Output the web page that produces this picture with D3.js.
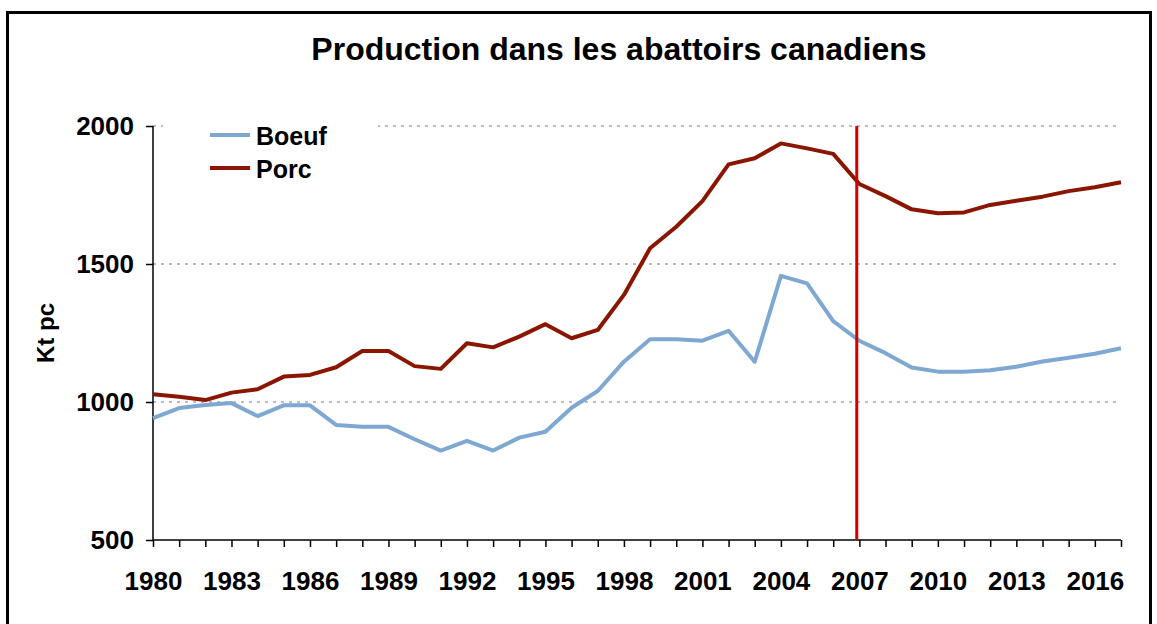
<!DOCTYPE html>
<html>
<head>
<meta charset="utf-8">
<script src="https://cdn.jsdelivr.net/npm/d3@7"></script>
<style>
  body { margin: 0; background: #fff; }
  svg { display: block; font-family: Arial, "Liberation Sans", sans-serif; }
</style>
</head>
<body>
<div id="chart"></div>
<script>
// data
const years = d3.range(1980, 2018);
const boeuf = [942, 978, 989, 996, 949, 988, 988, 917, 910, 910,
  865, 824, 859, 824, 871, 892, 979, 1040, 1146, 1227,
  1227, 1222, 1258, 1146, 1457, 1430, 1293, 1222, 1177, 1125,
  1110, 1110, 1115, 1128, 1147, 1160, 1175, 1195];
const porc = [1028, 1019, 1007, 1034, 1046, 1092, 1098, 1126, 1185, 1185,
  1130, 1120, 1213, 1198, 1237, 1282, 1231, 1261, 1388, 1557,
  1635, 1728, 1861, 1883, 1937, 1919, 1899, 1790, 1746, 1698,
  1684, 1687, 1714, 1729, 1744, 1764, 1778, 1796];
const yTicks = [500, 1000, 1500, 2000];
const xLabels = d3.range(1980, 2018, 3);
const markerYear = 2006.9;
const series = [
  { name: "Boeuf", values: boeuf, color: "#7ea7d1" },
  { name: "Porc", values: porc, color: "#8a1500" }
];

// setting variables
const W = 1157, H = 624,
  m = { top: 126, right: 36, bottom: 84, left: 153 },
  w = W - m.left - m.right,
  h = H - m.top - m.bottom;

const svg = d3.select("#chart")
  .append("svg")
  .attr("width", W)
  .attr("height", H);

// outer frame
svg.append("rect")
  .attr("x", 7.5).attr("y", 12.5)
  .attr("width", 1143).attr("height", 640)
  .attr("fill", "none")
  .attr("stroke", "#000")
  .attr("stroke-width", 3);

// title
svg.append("text")
  .attr("x", 619).attr("y", 60)
  .attr("text-anchor", "middle")
  .style("font-size", "32px")
  .style("font-weight", "bold")
  .text("Production dans les abattoirs canadiens");

const g = svg.append("g").attr("transform", `translate(${m.left},${m.top})`);

const x = d3.scaleLinear().domain([1980, 2017]).range([0, w]);
const y = d3.scaleLinear().domain([500, 2000]).range([h, 0]);

// grid
g.selectAll(".grid")
  .data(yTicks.filter(d => d > 500))
  .enter()
  .append("line")
  .attr("class", "grid")
  .attr("x1", 0).attr("x2", w)
  .attr("y1", d => y(d)).attr("y2", d => y(d))
  .attr("stroke", "#bbb")
  .attr("stroke-width", 2)
  .attr("stroke-dasharray", "3,5");

// axes
const yAxis = g.append("g")
  .call(d3.axisLeft(y).tickValues(yTicks).tickSize(7).tickPadding(12).tickFormat(d3.format("d")));
const xAxis = g.append("g")
  .attr("transform", `translate(0,${h})`)
  .call(d3.axisBottom(x).tickValues(years).tickSize(7).tickPadding(25)
    .tickFormat(d => xLabels.includes(d) ? d : ""));
[xAxis, yAxis].forEach(a => {
  a.select(".domain").attr("stroke", "#000").attr("stroke-width", 1.5);
  a.selectAll(".tick line").attr("stroke", "#000").attr("stroke-width", 1.5);
  a.selectAll("text")
    .attr("fill", "#000")
    .style("font-size", "26px")
    .style("font-weight", "bold")
    .style("font-family", "Arial, 'Liberation Sans', sans-serif");
});
xAxis.select(".domain").attr("d", `M0,0H${w}`);
yAxis.select(".domain").attr("d", `M0,0V${h}`);

// y label
svg.append("text")
  .attr("transform", "translate(54,333) rotate(-90)")
  .attr("text-anchor", "middle")
  .style("font-size", "24px")
  .style("font-weight", "bold")
  .text("Kt pc");

// lines
const line = d3.line()
  .x((d, i) => x(years[i]))
  .y(d => y(d));

g.selectAll(".serie")
  .data(series)
  .enter()
  .append("path")
  .attr("class", "serie")
  .attr("d", d => line(d.values))
  .attr("fill", "none")
  .attr("stroke", d => d.color)
  .attr("stroke-width", 4)
  .attr("stroke-linejoin", "round");

// vertical marker
g.append("line")
  .attr("x1", x(markerYear)).attr("x2", x(markerYear))
  .attr("y1", 0).attr("y2", h)
  .attr("stroke", "#d40000")
  .attr("stroke-width", 3);

// legend
const legend = svg.append("g");
legend.append("rect")
  .attr("x", 163).attr("y", 118)
  .attr("width", 215).attr("height", 70)
  .attr("fill", "#fff");
const item = legend.selectAll(".item")
  .data(series)
  .enter()
  .append("g")
  .attr("transform", (d, i) => `translate(210,${135 + i * 33})`);
item.append("line")
  .attr("x1", 0).attr("x2", 40)
  .attr("stroke", d => d.color)
  .attr("stroke-width", 4);
item.append("text")
  .attr("x", 46).attr("y", 10)
  .style("font-size", "25px")
  .style("font-weight", "bold")
  .text(d => d.name);
</script>
</body>
</html>
